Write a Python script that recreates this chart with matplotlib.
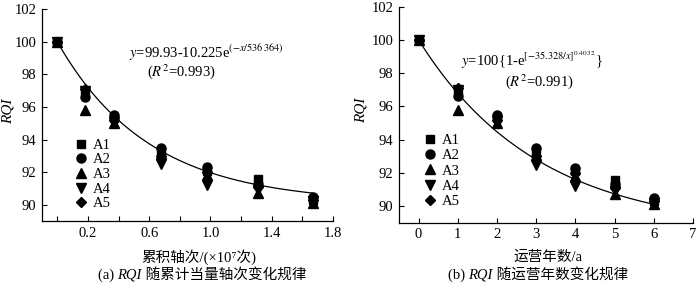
import numpy as np
import matplotlib
matplotlib.use("Agg")
import matplotlib.pyplot as plt
from matplotlib.ticker import MultipleLocator, FixedLocator

FAM = ['Liberation Serif', 'Noto Sans CJK SC']
plt.rcParams['font.family'] = FAM
plt.rcParams['mathtext.fontset'] = 'stix'

# ---- data ----
axle_load = [0.0, 0.18, 0.37, 0.68, 0.98, 1.31, 1.67]   # x10^7
years = [0, 1, 2, 3, 4, 5, 6]
series_names = ['A1', 'A2', 'A3', 'A4', 'A5']
A1 = [100.0, 97.0, 95.3, 93.3, 92.1, 91.6, 90.3]
A2 = [100.0, 96.6, 95.5, 93.5, 92.3, 91.3, 90.5]
A3 = [100.0, 95.8, 95.0, 93.1, 91.8, 90.7, 90.1]
A4 = [100.0, 97.0, 95.1, 92.5, 91.2, 90.9, 90.2]
A5 = [100.0, 97.1, 95.2, 93.0, 92.0, 91.1, 90.3]
series = [A1, A2, A3, A4, A5]
markers = ['s', 'o', '^', 'v', 'D']
msizes = [5.5, 6.5, 6.5, 6.5, 5.5]

# fitted curves (exponential decay parameters)
fit_a = dict(a=90.1, b=9.9, t=0.6)
fit_b = dict(a=88.5, b=11.5, t=3.05)

fig = plt.figure(figsize=(7.0, 2.84), dpi=100)
ax1 = fig.add_axes([42/700, 1-221/284, (333-42)/700, (221-9.3)/284])
ax2 = fig.add_axes([399/700, 1-222.7/284, (693-399)/700, (222.7-6.7)/284])

def style(ax, labx):
    for s in ['top', 'right']:
        ax.spines[s].set_visible(False)
    for s in ['left', 'bottom']:
        ax.spines[s].set_linewidth(0.9)
    ax.tick_params(which='both', direction='in', length=3.5, width=0.8,
                   labelsize=10.5, pad=4)
    ax.set_ylim(89, 102)
    ax.yaxis.set_major_locator(MultipleLocator(2))
    ax.set_ylabel('RQI', fontsize=11, style='italic')
    ax.yaxis.set_label_coords(labx, 0.52)

# left panel
style(ax1, -0.093)
for name, vals, m, ms in zip(series_names, series, markers, msizes):
    ax1.plot(axle_load, vals, linestyle='none', marker=m, ms=ms, color='black', label=name)
xc = np.linspace(0, 1.67, 200)
ax1.plot(xc, fit_a['a'] + fit_a['b'] * np.exp(-xc / fit_a['t']), color='black', lw=0.9)
ax1.set_xlim(-0.1, 1.8)
ax1.xaxis.set_major_locator(FixedLocator([0.2, 0.6, 1.0, 1.4, 1.8]))
ax1.xaxis.set_minor_locator(FixedLocator([0.0, 0.4, 0.8, 1.2, 1.6]))
ax1.set_xticklabels(['0.2', '0.6', '1.0', '1.4', '1.8'])
ax1.text(0.97, 99.3, r'$\mathit{y}$=99.93-10.225e$^{\mathrm{(-}\mathit{x}\mathrm{/536\,364)}}$',
         ha='center', va='center', fontsize=10.5)
ax1.text(0.81, 98.2, r'($\mathit{R}^{2}$=0.993)', ha='center', va='center', fontsize=10.5)
ax1.legend(loc='upper left', bbox_to_anchor=(0.108, 0.39), frameon=False,
           fontsize=10.5, handlelength=1.0, handletextpad=0.3, labelspacing=0.1,
           borderpad=0, borderaxespad=0)

# right panel
style(ax2, -0.108)
for name, vals, m, ms in zip(series_names, series, markers, msizes):
    ax2.plot(years, vals, linestyle='none', marker=m, ms=ms, color='black', label=name)
xc2 = np.linspace(0, 6, 200)
ax2.plot(xc2, fit_b['a'] + fit_b['b'] * np.exp(-xc2 / fit_b['t']), color='black', lw=0.9)
ax2.set_xlim(-0.5, 7)
ax2.xaxis.set_major_locator(MultipleLocator(1))
ax2.text(2.9, 98.75, r'$\mathit{y}$=100{1-e$^{\mathrm{[-35.328/}\mathit{x}\mathrm{]}^{\mathrm{0.403\,2}}}$}',
         ha='center', va='center', fontsize=10.5)
ax2.text(3.07, 97.5, r'($\mathit{R}^{2}$=0.991)', ha='center', va='center', fontsize=10.5)
ax2.legend(loc='upper left', bbox_to_anchor=(0.08, 0.41), frameon=False,
           fontsize=10.5, handlelength=1.0, handletextpad=0.3, labelspacing=0.13,
           borderpad=0, borderaxespad=0)

# axis labels
fig.text(199/700, 1-257/284, '累积轴次/(×10⁷次)', ha='center', va='center', fontsize=10.5)
fig.text(548/700, 1-257/284, '运营年数/a', ha='center', va='center', fontsize=10.5)

# captions built from pieces (italic RQI), then centred
def caption(cx, cy, parts):
    texts = []
    for s, st in parts:
        t = fig.text(0, 1 - cy/284, s, fontsize=10.5, style=st, ha='left', va='center')
        texts.append(t)
    fig.canvas.draw()
    r = fig.canvas.get_renderer()
    widths = [t.get_window_extent(r).width for t in texts]
    x = cx - sum(widths)/2
    for t, w in zip(texts, widths):
        t.set_position((x/700, 1 - cy/284))
        x += w

caption(202, 275, [('(a) ', 'normal'), ('RQI', 'italic'), (' 随累计当量轴次变化规律', 'normal')])
caption(538, 275, [('(b) ', 'normal'), ('RQI', 'italic'), (' 随运营年数变化规律', 'normal')])

fig.savefig('out.png', dpi=100)
